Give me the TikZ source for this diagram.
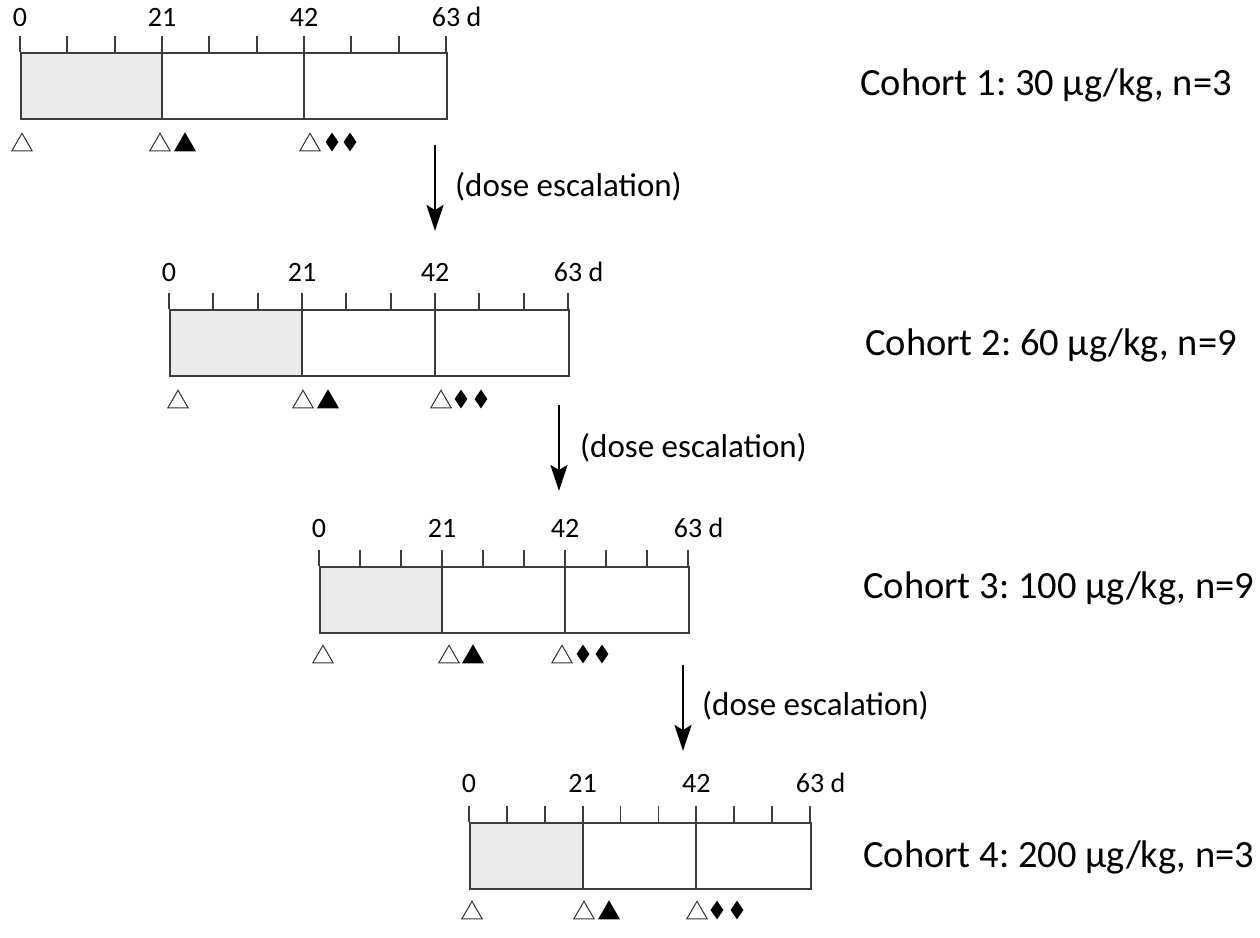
\documentclass[tikz,border=0pt]{standalone}
\usepackage{fontspec}
\setmainfont{Carlito}
\frenchspacing
\usetikzlibrary{shapes.geometric,arrows.meta}
\definecolor{linegray}{RGB}{60,60,60}
\definecolor{fillgray}{RGB}{235,235,235}
\tikzset{
  framebox/.style={draw=linegray, line width=1.8pt, inner sep=0pt, anchor=north west},
  barline/.style={draw=linegray, line width=1.8pt},
  opentri/.style={regular polygon, regular polygon sides=3, draw=black!80, line width=1pt, fill=white, minimum size=23.5pt, inner sep=0pt},
  filltri/.style={opentri, fill=black, draw=black},
  diam/.style={diamond, fill=black, minimum width=13pt, minimum height=19pt, inner sep=0pt},
  ticklbl/.style={font=\fontsize{28}{30}\selectfont, anchor=base, inner sep=0pt},
  cohortlbl/.style={font=\fontsize{38.5}{44}\selectfont, anchor=base west, inner sep=0pt},
  esclbl/.style={font=\fontsize{33}{36}\selectfont, anchor=base west, inner sep=0pt},
  escarrow/.style={line width=2.7pt, -{Stealth[length=26pt,width=17pt,inset=5pt]}},
}
% #1 name, #2 left, #3 top, #4 width, #5 label baseline offset above top
\newcommand\timelinebar[5]{%
  \begin{scope}[shift={(#2,#3)}]
    \fill[fillgray] (0,0) rectangle (#4/3,66);
    \node[framebox, minimum width=#4pt, minimum height=66pt] (#1) at (0,0) {};
    \draw[barline] (#4/3,0) -- (#4/3,66);
    \draw[barline] (2*#4/3,0) -- (2*#4/3,66);
    \foreach \i in {0,...,9} {\draw[barline] (\i*#4/9,0) -- (\i*#4/9,-16);}
    \node[ticklbl] (#1-l0) at (0,-#5) {0};
    \node[ticklbl] (#1-l21) at (#4/3,-#5) {21};
    \node[ticklbl] (#1-l42) at (2*#4/3,-#5) {42};
    \node[ticklbl] (#1-l63) at (#4,-#5) {63\rlap{ d}};
  \end{scope}}
% #1 name, #2 y, #3 open1, #4 open2, #5 filled, #6 open3, #7 diamond1, #8 diamond2
\newcommand\markrow[8]{%
  \node[opentri] (#1-o1) at (#3,#2+3) {};
  \node[opentri] (#1-o2) at (#4,#2+3) {};
  \node[filltri] (#1-f) at (#5,#2+3) {};
  \node[opentri] (#1-o3) at (#6,#2+3) {};
  \node[diam] (#1-d1) at (#7,#2) {};
  \node[diam] (#1-d2) at (#8,#2) {};}
\begin{document}
\begin{tikzpicture}[x=1pt,y=-1pt]
\useasboundingbox (0,0) rectangle (1260,937);

\timelinebar{c1}{20}{52}{426}{26}
\timelinebar{c2}{169}{309}{399}{28}
\timelinebar{c3}{319}{566}{369}{29}
\timelinebar{c4}{469}{822}{341}{30}

\markrow{m1}{142}{22}{160}{185}{310}{332}{350}
\markrow{m2}{399}{178}{303}{328}{441}{461}{481}
\markrow{m3}{654}{323}{449}{473}{562}{583}{602}
\markrow{m4}{910}{472}{584}{609}{697}{717}{737}

\node[cohortlbl] (t1) at (860,95) {Cohort 1: 30 µg/kg, n=3};
\node[cohortlbl] (t2) at (865,355) {Cohort 2: 60 µg/kg, n=9};
\node[cohortlbl] (t3) at (863,598) {Cohort 3: 100 µg/kg, n=9};
\node[cohortlbl] (t4) at (863,867) {Cohort 4: 200 µg/kg, n=3};

\coordinate (a1s) at (435,145); \coordinate (a1e) at (435,231);
\coordinate (a2s) at (559,405); \coordinate (a2e) at (559,491);
\coordinate (a3s) at (683,665); \coordinate (a3e) at (683,751);
\draw[escarrow] (a1s) -- (a1e);
\draw[escarrow] (a2s) -- (a2e);
\draw[escarrow] (a3s) -- (a3e);
\node[esclbl] (e1) at (455,196) {(dose escalation)};
\node[esclbl] (e2) at (580,457) {(dose escalation)};
\node[esclbl] (e3) at (702,715) {(dose escalation)};
\end{tikzpicture}
\end{document}
